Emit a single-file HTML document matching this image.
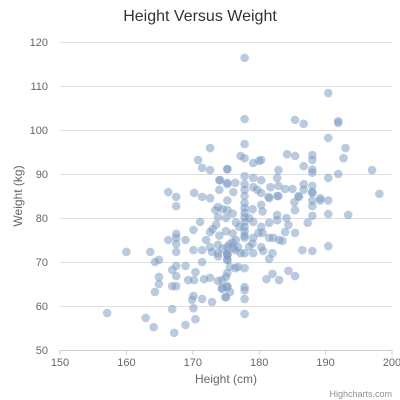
<!DOCTYPE html>
<html><head><meta charset="utf-8"><style>
html,body{margin:0;padding:0;background:#fff;}
svg{display:block;font-family:"Liberation Sans",sans-serif;}
</style></head><body>
<svg id="chart" width="400" height="400" viewBox="0 0 400 400">
<text x="200" y="21" text-anchor="middle" font-size="16" fill="#333">Height Versus Weight</text>
<g id="grid"></g>
<g id="yticks"></g>
<g id="xticks"></g>
<line x1="60" y1="350.5" x2="392" y2="350.5" stroke="#c0d0e0" stroke-width="1"/>
<g id="points"></g>
<text x="226" y="383" text-anchor="middle" font-size="12" fill="#666">Height (cm)</text>
<text transform="translate(22,196) rotate(-90)" text-anchor="middle" font-size="12" fill="#666">Weight (kg)</text>
<text x="392" y="397" text-anchor="end" font-size="9" fill="#909090">Highcharts.com</text>
</svg>
<script>
const xTicks=[150,160,170,180,190,200];
const yTicks=[50,60,70,80,90,100,110,120];
const heights=[177.8,190.4,177.8,185.4,186.7,191.9,191.9,190.4,193,192.7,197,198.1,177.8,177.2,177.8,184.2,185.4,188,188,186.7,188,188,190.4,191.9,179.1,180,180.3,182.9,182.7,175.2,177.8,179.1,180.3,
172.6,170.8,171.4,172.6,175.2,174,166.3,167.5,170.2,171.4,172.6,174,175.2,
167.5,173.8,173.4,175.2,173.8,171.1,170.1,167.5,167.5,166.3,168.9,167.5,167.5,170.1,171.4,172.6,172,172.6,173.8,175.2,172.9,173.8,175.2,175.2,173.8,171.4,160,163.6,164.3,164.9,166.9,167.5,167.5,168.9,170.4,169.3,170.2,171.7,172.6,173.8,175,164.9,164.9,164.3,166.9,167.5,174.4,175.2,170.1,169.9,171.4,172.9,175,157.1,162.9,164.1,166.9,167.2,168.9,170.1,170.4,
175.2,177.8,177.8,177.8,177.8,177.8,177.8,177.8,177.8,177.8,180.3,181.5,182.7,186,185.3,185.4,188,188,188,189.2,190.4,188,190.4,193.4,187.3,185.4,184.4,183.9,182.7,182.7,184.1,181.5,180.3,180.5,179.9,179.1,179.1,181.5,182.1,183,183.5,180.3,180.6,179.1,182,181.5,186.5,188,190.4,184.4,185.4,181.1,182,183,177.8,177.2,176.4,176.8,176.1,176,175.2,175.2,175.2,175.6,175.2,176.4,176.8,177.8,177.8,177.8,177.8,177.8,175.2,175.6,174.9,174.4,174.4,
174.1,175.2,176.4,177.8,179.1,179.7,180.3,181.7,182.9,183.9,185,186.7,188,188,186.7,185.9,189.2,176.1,177.8,181.4,182.9,177.8,
175,174.5,176,176.5,177,175,173.5,178.5,179,180.5,176,174,173,176.5,175.5,174.5,178.5,179];
const weights=[116.4,108.4,102.5,102.3,101.4,102.0,101.6,98.2,95.9,93.6,90.9,85.5,96.8,94.1,93.6,94.5,94.1,94.3,93.2,91.8,91,90.3,89.1,90,92.5,93,93.2,90.9,89.1,91.1,89.5,89.1,88.6,
95.9,93.2,91.4,90.9,91.1,88.6,85.9,84.8,85.7,84.8,84.5,86.4,87.7,
82.7,82.5,81.8,81.8,80.2,79.1,77.3,76.4,75.5,75,75,74.1,72.3,72.7,72.7,76.8,75,73.4,73.9,73.4,72.3,72,71.6,70.5,71.3,70,72.3,72.3,70,70.5,68.2,69.1,66.8,69.1,67.7,65.9,65.9,66.1,66.4,65.7,66.6,66.6,65,63.2,64.5,64.5,63.9,64.3,62.3,61.4,61.6,60.9,62,58.4,57.3,55.2,59.3,53.9,55.7,59.5,57,
84,83.4,82.3,81.2,80.2,79.1,78,77,76,75.5,83,84.5,85,84.8,83.6,81.8,85.7,84,82.7,84,84,80.5,80.9,80.7,78.9,76.6,78.4,76.8,80.7,79.5,80,78.9,78,76.6,76.6,79.1,75.5,75.5,75.5,75,74.8,73.4,72.5,72,72,70.7,72.7,72.5,73.6,68,66.8,66.1,67.3,65.9,72,72,72.7,73.4,73.2,74.5,72,70.5,71.6,68.9,67.5,68.6,68.9,68.6,64.3,63.6,61.6,58.2,64.5,63.2,62,64.1,65.9,
88.6,88,88,87.7,87,86.4,85.7,87,87.3,86.6,86.6,87.7,87.3,85.9,86.4,85,84.5,85.9,86.4,84.8,85,85,
80,82,81,79,78,77,78.5,80,82,81.5,76.5,76,77.5,75,74,73,73.5,74.2];
const NS='http://www.w3.org/2000/svg';
const x=v=>60+(v-150)*6.64;
const y=v=>350-(v-50)*4.4;
const grid=document.getElementById('grid'),yt=document.getElementById('yticks'),xt=document.getElementById('xticks'),pts=document.getElementById('points');
yTicks.forEach(t=>{
  if(t>50){const l=document.createElementNS(NS,'line');
  
  
  l.setAttribute('x1',60);l.setAttribute('x2',392);l.setAttribute('y1',Math.round(y(t))+0.5);l.setAttribute('y2',Math.round(y(t))+0.5);
  l.setAttribute('stroke','#e0e0e0');grid.appendChild(l);}
  const s=document.createElementNS(NS,'text');
  
  
  s.setAttribute('x',48);s.setAttribute('y',y(t)+4);s.setAttribute('text-anchor','end');s.setAttribute('font-size','11');s.setAttribute('fill','#666');
  s.textContent=t;yt.appendChild(s);
});
xTicks.forEach(t=>{
  const l=document.createElementNS(NS,'line');
  
  
  l.setAttribute('x1',x(t));l.setAttribute('x2',x(t));l.setAttribute('y1',350);l.setAttribute('y2',355);l.setAttribute('stroke','#c0d0e0');xt.appendChild(l);
  const s=document.createElementNS(NS,'text');
  
  
  s.setAttribute('x',x(t));s.setAttribute('y',366);s.setAttribute('text-anchor','middle');s.setAttribute('font-size','11');s.setAttribute('fill','#666');
  s.textContent=t;xt.appendChild(s);
});
heights.forEach((h,i)=>{
  const c=document.createElementNS(NS,'circle');
  
  
  c.setAttribute('cx',x(h));c.setAttribute('cy',y(weights[i]));c.setAttribute('r',4.3);
  c.setAttribute('fill','rgba(119,152,191,0.5)');pts.appendChild(c);
});
</script>
</body></html>
